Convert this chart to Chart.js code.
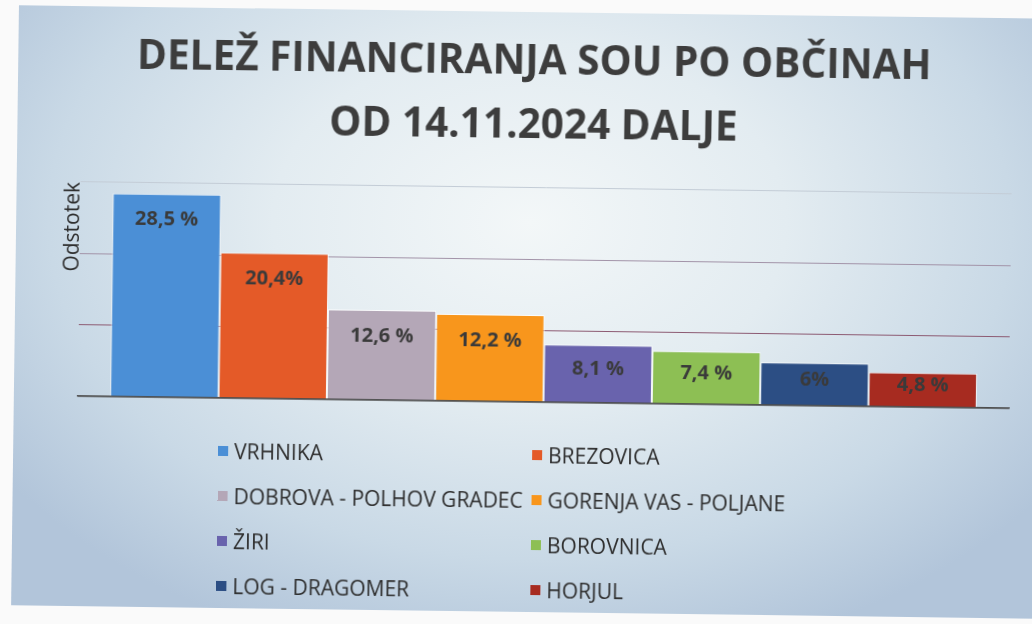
<!DOCTYPE html>
<html>
<head>
<meta charset="utf-8">
<script src="https://cdn.jsdelivr.net/npm/chart.js@4.4.1/dist/chart.umd.min.js"></script>
<style>
    html, body {
        margin: 0;
        width: 1032px;
        height: 624px;
        overflow: hidden;
        background: #fafafa;
    }
    #card {
        position: absolute;
        left: 15px;
        top: 12px;
        width: 1070px;
        height: 600px;
        transform-origin: 515px 300px;
        transform: rotate(0.75deg);
        background: radial-gradient(ellipse 60% 75% at 48% 35%, #f3f7f8 0%, #e3ecf1 40%, #c9d9e6 75%, #b2c5da 100%);
    }
    #chart-wrap {
        position: absolute;
        left: 0;
        top: 0;
        width: 1030px;
        height: 600px;
    }
    #legend {
        position: absolute;
        left: 205px;
        top: 420px;
        display: grid;
        grid-template-columns: 314px 314px;
        font-family: 'Open Sans', sans-serif;
        font-size: 21px;
        color: #2e2e2e;
    }
    .legend-item {
        display: flex;
        align-items: center;
        height: 45px;
        white-space: nowrap;
    }
    .legend-box {
        width: 10px;
        height: 10px;
        margin-right: 6px;
        flex: none;
    }
</style>
</head>
<body>
<div id="card">
    <div id="chart-wrap"><canvas id="share-chart"></canvas></div>
    <div id="legend"></div>
</div>
<script>
const municipalities = ['VRHNIKA', 'BREZOVICA', 'DOBROVA - POLHOV GRADEC', 'GORENJA VAS - POLJANE',
    'ŽIRI', 'BOROVNICA', 'LOG - DRAGOMER', 'HORJUL'];
const shares = [28.5, 20.4, 12.6, 12.2, 8.1, 7.4, 6, 4.8];
const shareLabels = ['28,5 %', '20,4%', '12,6 %', '12,2 %', '8,1 %', '7,4 %', '6%', '4,8 %'];
const barColors = ['#4b8fd6', '#e45a28', '#b4a7b7', '#f8961c', '#6963ad', '#8dbf54', '#2c4e84', '#a72b20'];
const axisSteps = [0, 10, 20, 30];

const gridColors = { 0: '#4d4d4d', 10: '#8c5a72', 20: '#a293a8', 30: '#c3ccd6' };

// percentage text inside the top of each bar
const barValueLabels = {
    id: 'barValueLabels',
    afterDatasetsDraw(chart) {
        const ctx = chart.ctx;
        ctx.save();
        ctx.font = 'bold 20px "Open Sans", sans-serif';
        ctx.fillStyle = '#3a3a3a';
        ctx.textAlign = 'center';
        ctx.textBaseline = 'middle';
        chart.data.datasets.forEach((ds, i) => {
            const bar = chart.getDatasetMeta(i).data[0];
            const y = Math.min(bar.y + 26, (bar.y + bar.base) / 2 - 4);
            ctx.fillText(shareLabels[i], bar.x, y);
        });
        ctx.restore();
    }
};

function buildLegend(chart) {
    const box = document.getElementById('legend');
    box.innerHTML = '';
    const items = chart.options.plugins.legend.labels.generateLabels(chart);
    items.forEach(item => {
        const row = document.createElement('div');
        row.className = 'legend-item';
        const sw = document.createElement('span');
        sw.className = 'legend-box';
        sw.style.background = item.fillStyle;
        row.appendChild(sw);
        row.appendChild(document.createTextNode(item.text));
        box.appendChild(row);
    });
}

const chart = new Chart(document.getElementById('share-chart'), {
    type: 'bar',
    data: {
        labels: [''],
        datasets: municipalities.map((name, i) => ({
            label: name,
            data: [shares[i]],
            backgroundColor: barColors[i],
            borderColor: 'rgba(255,255,255,0.8)',
            borderWidth: 1,
            categoryPercentage: 0.931,
            barPercentage: 1
        }))
    },
    options: {
        responsive: true,
        maintainAspectRatio: false,
        animation: false,
        layout: {
            padding: { left: 37, right: 35, top: 0, bottom: 210 }
        },
        scales: {
            x: {
                ticks: { display: false },
                grid: { display: false, drawTicks: false },
                border: { display: true, color: '#4d4d4d', width: 1.5 }
            },
            y: {
                min: axisSteps[0],
                max: axisSteps[axisSteps.length - 1],
                afterBuildTicks: scale => {
                    scale.ticks = axisSteps.map(v => ({ value: v }));
                },
                ticks: { display: false },
                grid: {
                    drawTicks: false,
                    color: ctx => gridColors[ctx.tick.value] || '#c3ccd6',
                    lineWidth: ctx => ctx.tick.value === 0 ? 1.5 : 1
                },
                border: { display: false },
                title: {
                    display: true,
                    text: 'Odstotek',
                    align: 'end',
                    color: '#2e2e2e',
                    font: { family: "'Open Sans', sans-serif", size: 21 },
                    padding: { top: 7, bottom: -5 }
                }
            }
        },
        plugins: {
            legend: { display: false },
            tooltip: { enabled: false },
            title: {
                display: true,
                text: ['DELEŽ FINANCIRANJA SOU PO OBČINAH', 'OD 14.11.2024 DALJE'],
                color: '#3d3d3d',
                font: { family: "'Open Sans', sans-serif", size: 40.5, weight: 'bold', lineHeight: 1.58 },
                padding: { top: 18, bottom: 30 }
            }
        }
    },
    plugins: [barValueLabels]
});

buildLegend(chart);
</script>
</body>
</html>
